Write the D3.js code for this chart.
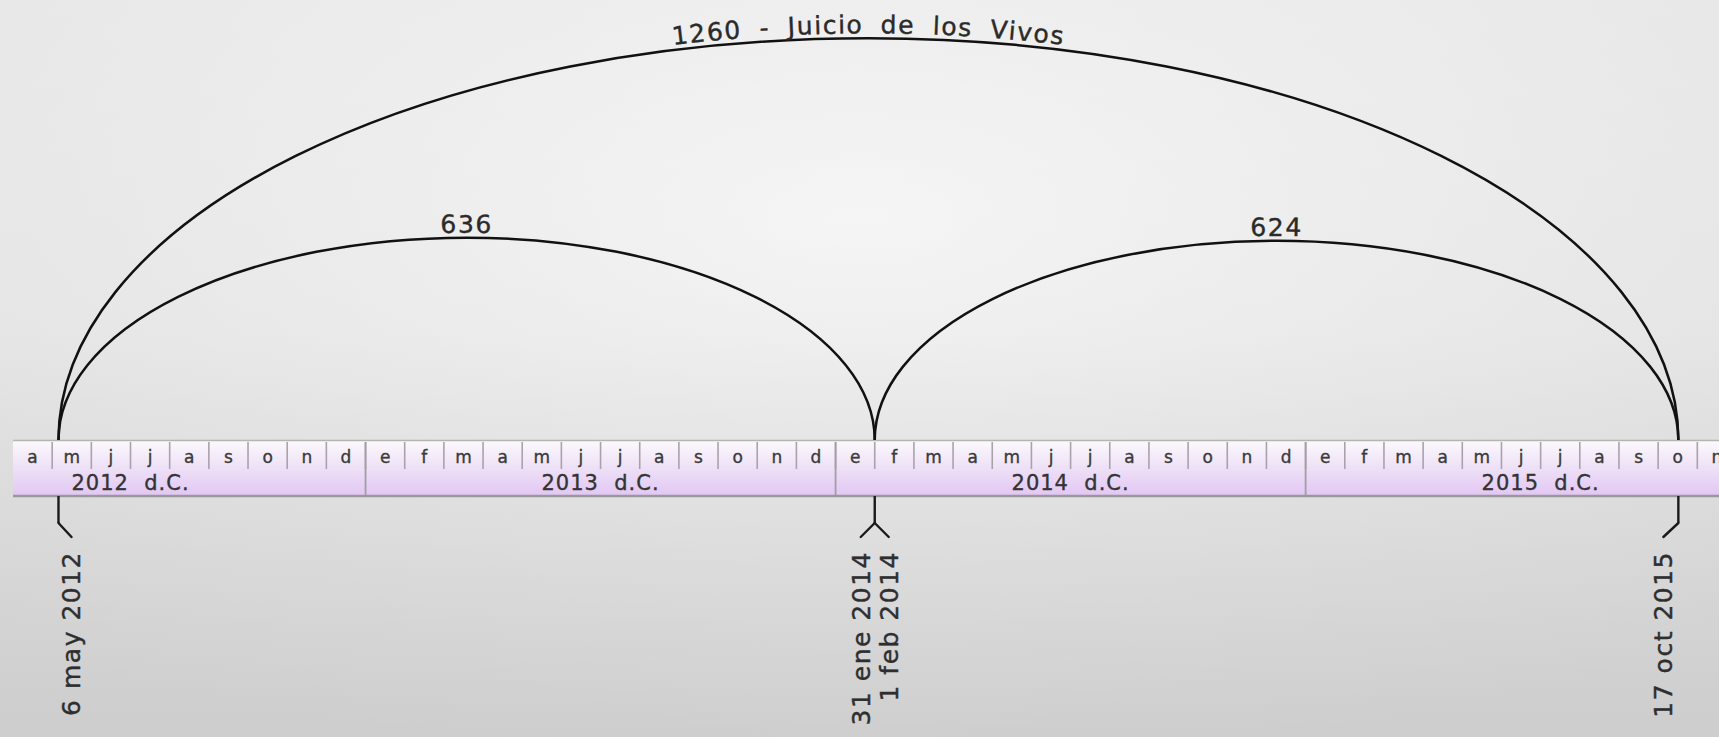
<!DOCTYPE html>
<html>
<head>
<meta charset="utf-8">
<script src="https://cdn.jsdelivr.net/npm/d3@7"></script>
<style>
    html, body { margin: 0; padding: 0; overflow: hidden; }
    svg { display: block; font-family: "DejaVu Sans", Verdana, sans-serif; }
</style>
</head>
<body>
<svg id="chart" width="1719" height="737"></svg>
<script>
// timeline data
const monthLetters = ["e", "f", "m", "a", "m", "j", "j", "a", "s", "o", "n", "d"];
const years = [2012, 2013, 2014, 2015];
const yearSuffix = " d.C.";

const markerDates = ["2012-05-06", "2014-02-01", "2015-10-17"];
const markerLabels = [["6 may 2012"], ["31 ene 2014", "1 feb 2014"], ["17 oct 2015"]];

const spanFrom = ["2012-05-06", "2012-05-06", "2014-02-01"];
const spanTo = ["2015-10-17", "2014-02-01", "2015-10-17"];
const spanLabels = ["1260 - Juicio de los Vivos", "636", "624"];

const width = 1719, height = 737;
const bandLeft = 13, bandTop = 440, monthBottom = 469, bandBottom = 496;
const monthWidth = 39.17;

let svg = d3.select("#chart");
let defs = svg.append("defs");

// background
let bg = defs.append("linearGradient").attr("id", "bg").attr("x1", 0).attr("y1", 0).attr("x2", 0).attr("y2", 1);
bg.append("stop").attr("offset", "0%").attr("stop-color", "#f3f3f3");
bg.append("stop").attr("offset", "45%").attr("stop-color", "#eeeeee");
bg.append("stop").attr("offset", "100%").attr("stop-color", "#d3d3d3");
let bgr = defs.append("radialGradient").attr("id", "bgr").attr("cx", "50%").attr("cy", "30%").attr("r", "75%");
bgr.append("stop").attr("offset", "0%").attr("stop-color", "#ffffff").attr("stop-opacity", 0.35);
bgr.append("stop").attr("offset", "100%").attr("stop-color", "#bcbcbc").attr("stop-opacity", 0.25);

let band = defs.append("linearGradient").attr("id", "band").attr("x1", 0).attr("y1", 0).attr("x2", 0).attr("y2", 1);
band.append("stop").attr("offset", "0%").attr("stop-color", "#fcfafd");
band.append("stop").attr("offset", "45%").attr("stop-color", "#efe3f7");
band.append("stop").attr("offset", "100%").attr("stop-color", "#e2c6f4");

svg.append("rect").attr("width", width).attr("height", height).attr("fill", "url(#bg)");
svg.append("rect").attr("width", width).attr("height", height).attr("fill", "url(#bgr)");

// months counted from jan 2012, april 2012 sits at the band's left edge
let x = d3.scaleLinear()
    .domain([3, 3 + 44])
    .range([bandLeft, bandLeft + 44 * monthWidth]);

function monthPos(str) {
    let d = d3.utcParse("%Y-%m-%d")(str);
    let days = d3.utcDay.count(d3.utcMonth.floor(d), d3.utcMonth.offset(d3.utcMonth.floor(d), 1));
    return (d.getUTCFullYear() - 2012) * 12 + d.getUTCMonth() + (d.getUTCDate() - 1) / days;
}

// band
let bandG = svg.append("g");
bandG.append("rect")
    .attr("x", bandLeft).attr("y", bandTop)
    .attr("width", width - bandLeft).attr("height", bandBottom - bandTop)
    .attr("fill", "url(#band)");

// only the months that fall inside the band
let months = d3.range(years.length * 12).filter(m => x(m) >= bandLeft && x(m) < width);

bandG.selectAll(".monthsep")
    .data(months.filter(m => x(m) > bandLeft))
    .enter()
    .append("line")
    .attr("class", "monthsep")
    .attr("x1", d => x(d)).attr("x2", d => x(d))
    .attr("y1", bandTop + 2).attr("y2", monthBottom)
    .attr("stroke", "#a8a3ab").attr("stroke-width", 1.6);

bandG.selectAll(".monthlabel")
    .data(months)
    .enter()
    .append("text")
    .attr("class", "monthlabel")
    .attr("x", d => x(d + 0.5))
    .attr("y", 463)
    .attr("text-anchor", "middle")
    .attr("font-size", 17)
    .attr("fill", "#3a3a3a")
    .attr("stroke", "#3a3a3a").attr("stroke-width", 0.35)
    .text(d => monthLetters[d % 12]);

bandG.selectAll(".yearsep")
    .data(years.filter((d, i) => x(i * 12) > bandLeft))
    .enter()
    .append("line")
    .attr("class", "yearsep")
    .attr("x1", d => x((d - 2012) * 12)).attr("x2", d => x((d - 2012) * 12))
    .attr("y1", bandTop + 2).attr("y2", bandBottom)
    .attr("stroke", "#a29da6").attr("stroke-width", 1.8);

bandG.selectAll(".yearlabel")
    .data(years)
    .enter()
    .append("text")
    .attr("class", "yearlabel")
    .attr("x", (d, i) => x(i * 12 + 6))
    .attr("y", 490)
    .attr("text-anchor", "middle")
    .attr("font-size", 21)
    .attr("letter-spacing", 1)
    .attr("fill", "#333")
    .attr("stroke", "#333").attr("stroke-width", 0.35)
    .style("white-space", "pre")
    .text(d => d + " " + yearSuffix);

bandG.append("line")
    .attr("x1", bandLeft).attr("x2", width)
    .attr("y1", bandTop + 0.5).attr("y2", bandTop + 0.5)
    .attr("stroke", "#b5b5b5").attr("stroke-width", 1.5);
bandG.append("line")
    .attr("x1", bandLeft).attr("x2", width)
    .attr("y1", bandBottom).attr("y2", bandBottom)
    .attr("stroke", "#999").attr("stroke-width", 2.5);

// arcs
let spans = spanLabels.map((label, i) => {
    return {'label': label, 'x0': x(monthPos(spanFrom[i])), 'x1': x(monthPos(spanTo[i]))};
});

svg.selectAll(".arc")
    .data(spans)
    .enter()
    .append("path")
    .attr("class", "arc")
    .attr("id", (d, i) => "arc" + i)
    .attr("d", d => {
        let rx = (d.x1 - d.x0) / 2;
        let ry = rx * 0.496;
        return `M${d.x0},${bandTop} A${rx},${ry} 0 0 1 ${d.x1},${bandTop}`;
    })
    .attr("fill", "none")
    .attr("stroke", "#111")
    .attr("stroke-width", 2.5);

svg.selectAll(".arclabel")
    .data(spans)
    .enter()
    .append("text")
    .attr("class", "arclabel")
    .attr("dy", -5)
    .attr("font-size", 25)
    .attr("letter-spacing", 1.5)
    .attr("word-spacing", 8)
    .attr("fill", "#2a2a2a")
    .attr("stroke", "#2a2a2a").attr("stroke-width", 0.4)
    .style("white-space", "pre")
    .append("textPath")
    .attr("href", (d, i) => "#arc" + i)
    .attr("startOffset", "50%")
    .attr("text-anchor", "middle")
    .text(d => d.label);

// markers below the band
let markers = markerDates.map((date, i) => {
    return {'x': x(monthPos(date)), 'labels': markerLabels[i]};
});

let markerG = svg.selectAll(".marker")
    .data(markers)
    .enter()
    .append("g")
    .attr("class", "marker");

markerG.each(function (m) {
    let g = d3.select(this);
    let offsets = m.labels.length == 2 ? [-14, 14] : [m.x < width / 2 ? 13 : -15];
    g.append("line")
        .attr("x1", m.x).attr("x2", m.x)
        .attr("y1", bandBottom).attr("y2", 523)
        .attr("stroke", "#1a1a1a").attr("stroke-width", 2.4);
    offsets.forEach((off, j) => {
        g.append("line")
            .attr("x1", m.x).attr("y1", 523)
            .attr("x2", m.x + off).attr("y2", 537)
            .attr("stroke", "#1a1a1a").attr("stroke-width", 2.4)
            .attr("stroke-linecap", "round");
        g.append("text")
            .attr("transform", `translate(${m.x + off},551) rotate(-90)`)
            .attr("dy", "0.36em")
            .attr("text-anchor", "end")
            .attr("font-size", 25)
            .attr("letter-spacing", 1.5)
            .attr("fill", "#2e2e2e")
            .attr("stroke", "#2e2e2e").attr("stroke-width", 0.4)
            .text(m.labels[j]);
    });
});
</script>
</body>
</html>
